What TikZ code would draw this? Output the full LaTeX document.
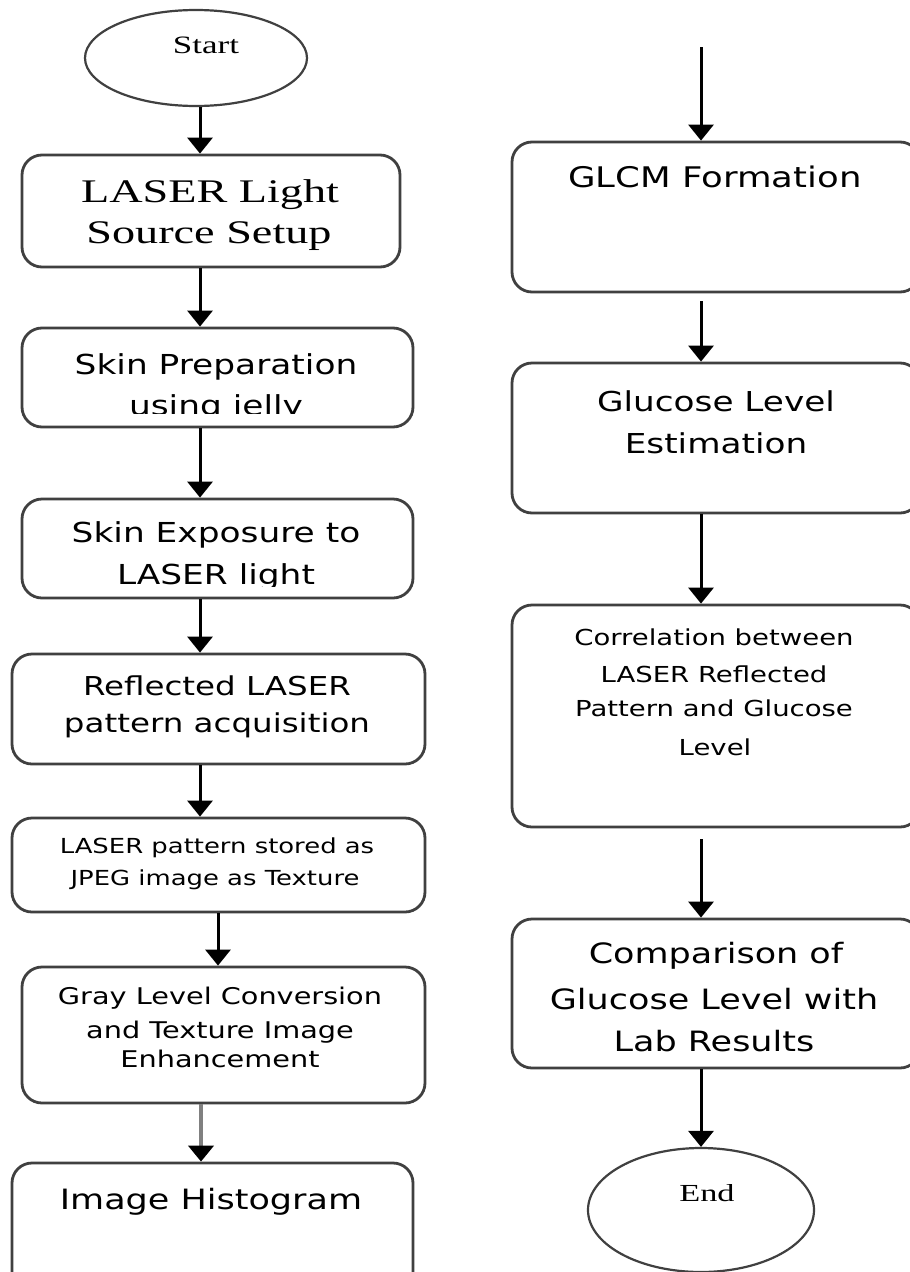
\documentclass[tikz,border=0pt]{standalone}
\usepackage{fontspec}
\usetikzlibrary{arrows.meta,shapes.geometric}
\newfontfamily\sfw[FakeStretch=1.25]{DejaVu Sans}
\newfontfamily\srw[FakeStretch=1.4]{Liberation Serif}
\newcommand{\fs}[1]{\fontsize{#1}{#1}\selectfont}
\tikzset{
  box/.style={draw=black!75, line width=2.8pt, rounded corners=20pt, inner sep=0pt, rectangle},
  oval/.style={draw=black!75, line width=2.2pt, ellipse, inner sep=0pt},
  arr/.style={-{Triangle[width=25pt,length=16pt,fill=black,color=black]}, line width=3pt, black},
  tx/.style={anchor=base, inner sep=0pt, text=black},
}
\begin{document}
\begin{tikzpicture}[x=1pt,y=-1pt]
\useasboundingbox (0,0) rectangle (910,1272);
\clip (0,0) rectangle (910,1272);
\fill[white] (0,0) rectangle (910,1272);

% left column shapes
\node[oval, minimum width=222pt, minimum height=96pt] (start) at (196,58) {};
\node[box, minimum width=378pt, minimum height=112pt] (b1) at (211,211) {};
\node[box, minimum width=391pt, minimum height=99pt] (b2) at (217.5,377.5) {};
\node[box, minimum width=391pt, minimum height=99pt] (b3) at (217.5,548.5) {};
\node[box, minimum width=413pt, minimum height=110pt] (b4) at (218.5,709) {};
\node[box, minimum width=413pt, minimum height=94pt] (b5) at (218.5,865) {};
\node[box, minimum width=403pt, minimum height=136pt] (b6) at (223.5,1035) {};
\node[box, minimum width=401pt, minimum height=137pt] (b7) at (212.5,1231.5) {};

% right column shapes
\coordinate (top) at (701,47);
\node[box, minimum width=408pt, minimum height=150pt] (r1) at (716,217) {};
\node[box, minimum width=408pt, minimum height=150pt] (r2) at (716,438) {};
\node[box, minimum width=408pt, minimum height=222pt] (r3) at (716,716) {};
\node[box, minimum width=408pt, minimum height=149pt] (r4) at (716,993.5) {};
\node[oval, minimum width=226pt, minimum height=124pt] (end) at (701,1210) {};

% texts
\node[tx, font=\srw\fs{25}] (tStart) at (206,53) {Start};
\node[tx, font=\srw\fs{33}] (t1a) at (210,202) {LASER Light};
\node[tx, font=\srw\fs{33}] (t1b) at (209,243) {Source Setup};
\node[tx, font=\sfw\fs{27.5}] (t2a) at (216,374) {Skin Preparation};
\begin{scope}
  \clip (22,328) rectangle (413,413);
  \node[tx, font=\sfw\fs{27.5}] (t2b) at (216,415) {using jelly};
\end{scope}
\node[tx, font=\sfw\fs{27.5}] (t3a) at (216,542) {Skin Exposure to};
\begin{scope}
  \clip (22,499) rectangle (413,586);
  \node[tx, font=\sfw\fs{27.5}] (t3b) at (216,584) {LASER light};
\end{scope}
\node[tx, font=\sfw\fs{26}] (t4a) at (217,695) {Reflected LASER};
\node[tx, font=\sfw\fs{26}] (t4b) at (217,732) {pattern acquisition};
\node[tx, font=\sfw\fs{20.7}] (t5a) at (217,853) {LASER pattern stored as};
\node[tx, font=\sfw\fs{20.7}] (t5b) at (215,885) {JPEG image as Texture};
\node[tx, font=\sfw\fs{23}] (t6a) at (220,1004) {Gray Level Conversion};
\node[tx, font=\sfw\fs{23}] (t6b) at (220,1038) {and Texture Image};
\node[tx, font=\sfw\fs{23}] (t6c) at (220,1067) {Enhancement};
\node[tx, font=\sfw\fs{28}] (t7) at (211,1209) {Image Histogram};

\node[tx, font=\sfw\fs{28.4}] (tr1) at (715,187) {GLCM Formation};
\node[tx, font=\sfw\fs{27.4}] (tr2a) at (716,411) {Glucose Level};
\node[tx, font=\sfw\fs{27.4}] (tr2b) at (716,453) {Estimation};
\node[tx, font=\sfw\fs{22}] (tr3a) at (714,645) {Correlation between};
\node[tx, font=\sfw\fs{22}] (tr3b) at (714,682) {LASER Reflected};
\node[tx, font=\sfw\fs{22}] (tr3c) at (714,716) {Pattern and Glucose};
\node[tx, font=\sfw\fs{22}] (tr3d) at (715,755) {Level};
\node[tx, font=\sfw\fs{28}] (tr4a) at (716,963) {Comparison of};
\node[tx, font=\sfw\fs{28}] (tr4b) at (714,1009) {Glucose Level with};
\node[tx, font=\sfw\fs{28}] (tr4c) at (714,1051) {Lab Results};
\node[tx, font=\srw\fs{24.5}] (tEnd) at (707,1201) {End};

% connectors left
\draw[arr] (start.south -| 200,0) -- (b1.north -| 200,0);
\draw[arr] (b1.south -| 200,0) -- (b2.north -| 200,0);
\draw[arr] (b2.south -| 200,0) -- (b3.north -| 200,0);
\draw[arr] (b3.south -| 200,0) -- (b4.north -| 200,0);
\draw[arr] (b4.south -| 200,0) -- (b5.north -| 200,0);
\draw[arr] (b5.south -| 218,0) -- (b6.north -| 218,0);
\draw[arr, draw=black!50, line width=4pt] (b6.south -| 201,0) -- (b7.north -| 201,0);

% connectors right
\draw[arr] (top) -- (top |- r1.north);
\draw[arr, shorten <=8pt] (r1.south -| top) -- (r2.north -| top);
\draw[arr] (r2.south -| top) -- (r3.north -| top);
\draw[arr, shorten <=11pt] (r3.south -| top) -- (r4.north -| top);
\draw[arr] (r4.south -| top) -- (end.north);
\end{tikzpicture}
\end{document}
